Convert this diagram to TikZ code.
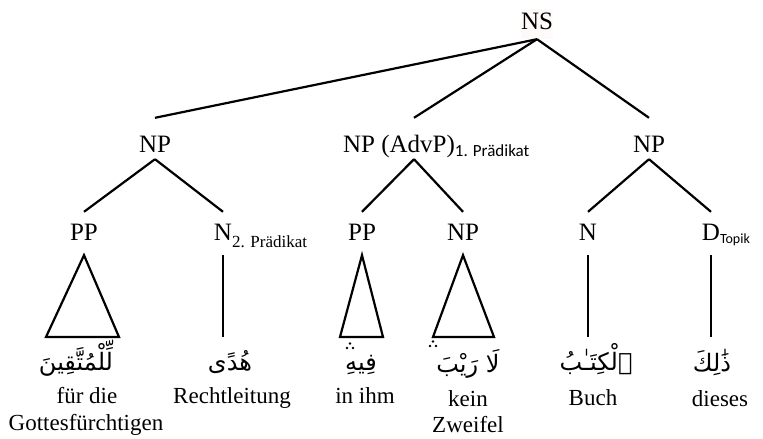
\documentclass[tikz,border=0pt]{standalone}
\usepackage{fontspec}
\setmainfont{Liberation Serif}
\newfontfamily\subfont{Carlito}
\newfontfamily\arabicfont[Script=Arabic]{DejaVu Sans}
\TeXXeTstate=1
\tikzset{
  edge/.style={line width=2.2pt, line cap=butt},
  lab/.style={font=\fontsize{25}{28}\selectfont, inner sep=0pt, anchor=base},
  top/.style={lab, text height=20pt, text depth=10pt},
  lvA/.style={lab, text height=34pt, text depth=7pt},
  lvB/.style={lab, text height=28pt, text depth=15pt},
  ar/.style={font=\arabicfont\fontsize{24}{30}\selectfont, inner sep=0pt, anchor=base},
  gl/.style={font=\fontsize{23}{27}\selectfont, inner sep=0pt, anchor=base},
  waqf/.style={fill=black},
}
\newcommand{\sansSub}[3]{\rlap{\raisebox{#1}{\subfont\fontsize{#2}{#2}\selectfont #3}}}
\newcommand{\serifSub}[3]{\rlap{\raisebox{#1}{\fontsize{#2}{#2}\selectfont #3}}}
\begin{document}
\begin{tikzpicture}[x=1pt,y=-1pt]
\useasboundingbox (0,0) rectangle (763,439);
% top
\node[top, fill=red!2] (ns) at (537,29) {NS};
% level 1
\node[lvA] (np1) at (155,152) {NP};
\node[lvA] (np2) at (414,152) {NP (AdvP)\sansSub{-4pt}{17}{1. Prädikat}\kern30pt\relax};
\node[lvA] (np3) at (649,152) {NP};
% level 2
\node[lvB] (pp1) at (84,240) {PP};
\node[lvB] (n1) at (223,240) {N\serifSub{-7pt}{17}{2. Prädikat}};
\node[lvB] (pp2) at (362,240) {PP};
\node[lvB] (np4) at (463,240) {NP};
\node[lvB] (n2) at (588,240) {N};
\node[lvB] (d) at (711,240) {D\sansSub{-3pt}{14}{Topik}};
% edges
\draw[edge] (ns.south) -- (np1.north);
\draw[edge] (ns.south) -- (np2.north);
\draw[edge] (ns.south) -- (np3.north);
\draw[edge] (np1.south) -- (pp1.north);
\draw[edge] (np1.south) -- (n1.north);
\draw[edge] (np2.south) -- (pp2.north);
\draw[edge] (np2.south) -- (np4.north);
\draw[edge] (np3.south) -- (n2.north);
\draw[edge] (np3.south) -- (d.north);
% triangle and line ends
\coordinate (t1l) at (46,337);  \coordinate (t1r) at (119,337);
\coordinate (t2l) at (340,337); \coordinate (t2r) at (383,337);
\coordinate (t3l) at (433,337); \coordinate (t3r) at (494,337);
\coordinate (v1) at (223,337);
\coordinate (v2) at (588,337);
\coordinate (v3) at (711,337);
\draw[edge, line join=miter] (pp1.south) -- (t1l) -- (t1r) -- cycle;
\draw[edge, line join=miter] (pp2.south) -- (t2l) -- (t2r) -- cycle;
\draw[edge, line join=miter] (np4.south) -- (t3l) -- (t3r) -- cycle;
\draw[edge] (n1.south) -- (v1);
\draw[edge] (n2.south) -- (v2);
\draw[edge] (d.south) -- (v3);
% arabic words
\node[ar] (a1) at (76,370) {\beginR لِّلْمُتَّقِينَ\endR};
\node[ar] (a2) at (230,370) {\beginR هُدًى\endR};
\node[ar] (a3) at (361,370) {\beginR فِيهِ\endR};
\node[ar] (a4) at (468,372) {\beginR لَا رَيْبَ\endR};
\node[ar] (a5) at (596,370) {\beginR ٱلْكِتَـٰبُ\endR};
\node[ar] (a6) at (712,371) {\beginR ذَٰلِكَ\endR};
% waqf marks (three dots)
\fill[waqf] (350,343.5) circle (1.4) (347,348) circle (1.4) (353,348) circle (1.4);
\fill[waqf] (433,341.5) circle (1.4) (430,346) circle (1.4) (436,346) circle (1.4);
% glosses
\node[gl] (g1) at (87,403) {für die};
\node[gl] (g1b) at (86,430) {Gottesfürchtigen};
\node[gl] (g2) at (232,403) {Rechtleitung};
\node[gl] (g3) at (365,403) {in ihm};
\node[gl] (g4) at (468,406) {kein};
\node[gl] (g4b) at (468,432) {Zweifel};
\node[gl] (g5) at (593,405) {Buch};
\node[gl] (g6) at (720,406) {dieses};
\end{tikzpicture}
\end{document}
